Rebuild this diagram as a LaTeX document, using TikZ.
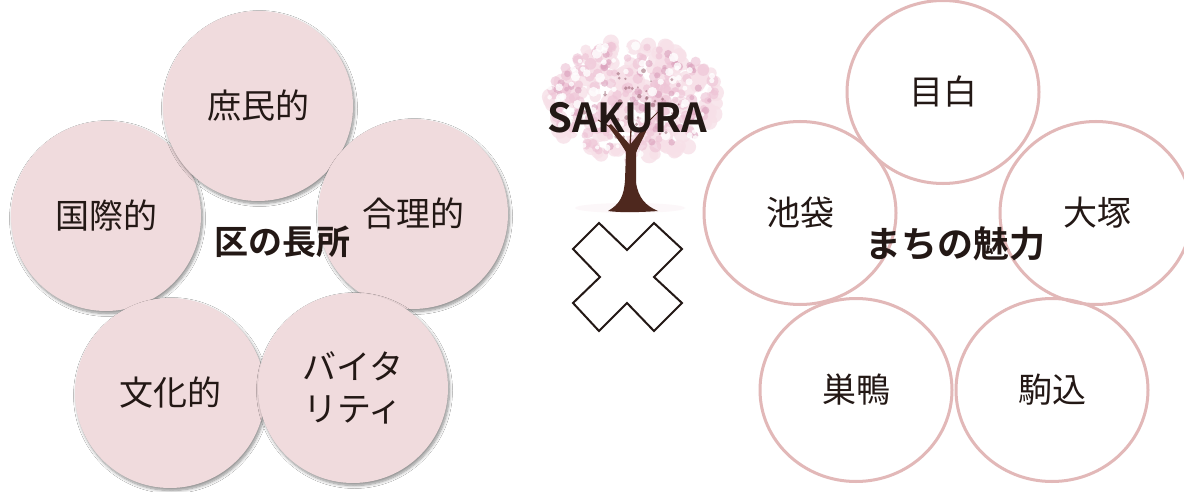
\documentclass[tikz,border=0pt]{standalone}
\usepackage{fontspec}
\setmainfont{Noto Sans CJK JP}[BoldFont={Noto Sans CJK JP Bold}]
\usetikzlibrary{shapes.geometric,shadows.blur}
\definecolor{ink}{RGB}{35,24,21}
\definecolor{petal}{RGB}{240,219,221}
\definecolor{rim}{RGB}{226,184,184}
\definecolor{bark}{RGB}{78,40,30}
\definecolor{bloomA}{RGB}{238,196,214}
\definecolor{bloomB}{RGB}{247,224,232}
\definecolor{bloomC}{RGB}{218,160,188}
\definecolor{bloomD}{RGB}{150,95,110}
\begin{document}
\begin{tikzpicture}[x=1pt,y=-1pt,
  strength/.style={circle, fill=petal, minimum size=190pt, inner sep=0pt,
    align=center, text=ink, font=\fontsize{34}{42}\selectfont,
    blur shadow={shadow xshift=1.5pt, shadow yshift=-2.5pt,
      shadow opacity=45, shadow blur radius=3pt, shadow blur steps=8}},
  charm/.style={ellipse, draw=rim, line width=3pt, minimum width=192pt,
    minimum height=183pt, inner sep=0pt, text=ink,
    font=\fontsize{34}{42}\selectfont},
  hub/.style={text=ink, font=\bfseries\fontsize{34}{40}\selectfont},
  title/.style={text=ink, font=\bfseries\fontsize{40}{46}\selectfont}]
\useasboundingbox (0,0) rectangle (1184,492);
\fill[white] (0,0) rectangle (1184,492);

% ---- strengths of the ward (filled circles) ----
\node[strength] (kokusai) at (106,216) {国際的};
\node[strength] (shomin) at (258,106) {庶民的};
\node[strength] (gouri)  at (413,214) {合理的};
\node[strength] (bunka)  at (170,393) {文化的};
\node[strength] (vital)  at (353,388) {バイタ\\リティ};
\node[hub] (strengths) at (282,242) {区の長所};

% ---- cherry tree ----
\fill[bloomB, opacity=0.25] (630,208) ellipse (55 and 5);
\pgfmathsetseed{17}
\foreach \i in {1,...,180}{
  \pgfmathsetmacro\t{360*rnd}
  \pgfmathsetmacro\r{sqrt(rnd)}
  \fill[bloomB, opacity=0.8] ({634+88*\r*cos(\t)},{100+60*\r*sin(\t)}) circle ({5+4*rnd});
}
\foreach \i in {1,...,150}{
  \pgfmathsetmacro\t{360*rnd}
  \pgfmathsetmacro\r{sqrt(rnd)}
  \fill[bloomA, opacity=0.65] ({634+84*\r*cos(\t)},{100+57*\r*sin(\t)}) circle ({3+3*rnd});
}
\foreach \i in {1,...,60}{
  \pgfmathsetmacro\t{360*rnd}
  \pgfmathsetmacro\r{sqrt(rnd)}
  \fill[bloomC, opacity=0.6] ({634+80*\r*cos(\t)},{102+54*\r*sin(\t)}) circle ({2+2*rnd});
}
\foreach \i in {1,...,80}{
  \pgfmathsetmacro\t{360*rnd}
  \pgfmathsetmacro\r{sqrt(rnd)}
  \fill[white, opacity=0.8] ({634+86*\r*cos(\t)},{100+58*\r*sin(\t)}) circle ({2+3*rnd});
}
\foreach \i in {1,...,35}{
  \pgfmathsetmacro\t{360*rnd}
  \pgfmathsetmacro\r{0.2+0.6*rnd}
  \fill[bloomD, opacity=0.55] ({634+70*\r*cos(\t)},{105+45*\r*sin(\t)}) circle ({1+1.5*rnd});
}
% trunk and main branches
\fill[bark] (608,211) .. controls (620,204) and (624,196) .. (625,180)
  -- (626,152) .. controls (620,142) and (614,134) .. (608,126)
  -- (611,124) .. controls (619,133) and (625,139) .. (630,145)
  .. controls (636,137) and (642,131) .. (647,120)
  -- (650,122) .. controls (645,135) and (639,145) .. (636,153)
  -- (636,182) .. controls (638,198) and (646,206) .. (658,211)
  .. controls (645,212) and (622,213) .. (608,211) -- cycle;
\draw[bark, line width=1.3pt] (630,146) -- (632,114);
\draw[bark, line width=1pt] (612,128) -- (598,120);
\draw[bark, line width=1pt] (647,123) -- (660,110);
\node[title] (sakura) at (627,118) {SAKURA};

% ---- multiplication sign ----
\draw[ink, line width=2pt, fill=white, line join=miter]
  (599,223) -- (627,250) -- (654,223) -- (682,249) -- (654,277)
  -- (682,303) -- (654,331) -- (627,303) -- (599,331) -- (573,303)
  -- (600,277) -- (573,249) -- cycle;

% ---- charms of the towns (outlined circles) ----
\node[charm] (mejiro)   at (943,92)   {目白};
\node[charm] (ikebukuro) at (800,213) {池袋};
\node[charm] (otsuka)   at (1096,213) {\hspace*{2pt}大塚};
\node[charm] (sugamo)   at (856,390)  {巣鴨};
\node[charm] (komagome) at (1052,390) {駒込};
\node[hub, font=\bfseries\fontsize{36}{42}\selectfont] (charms) at (955,244) {まちの魅力};
\end{tikzpicture}
\end{document}
